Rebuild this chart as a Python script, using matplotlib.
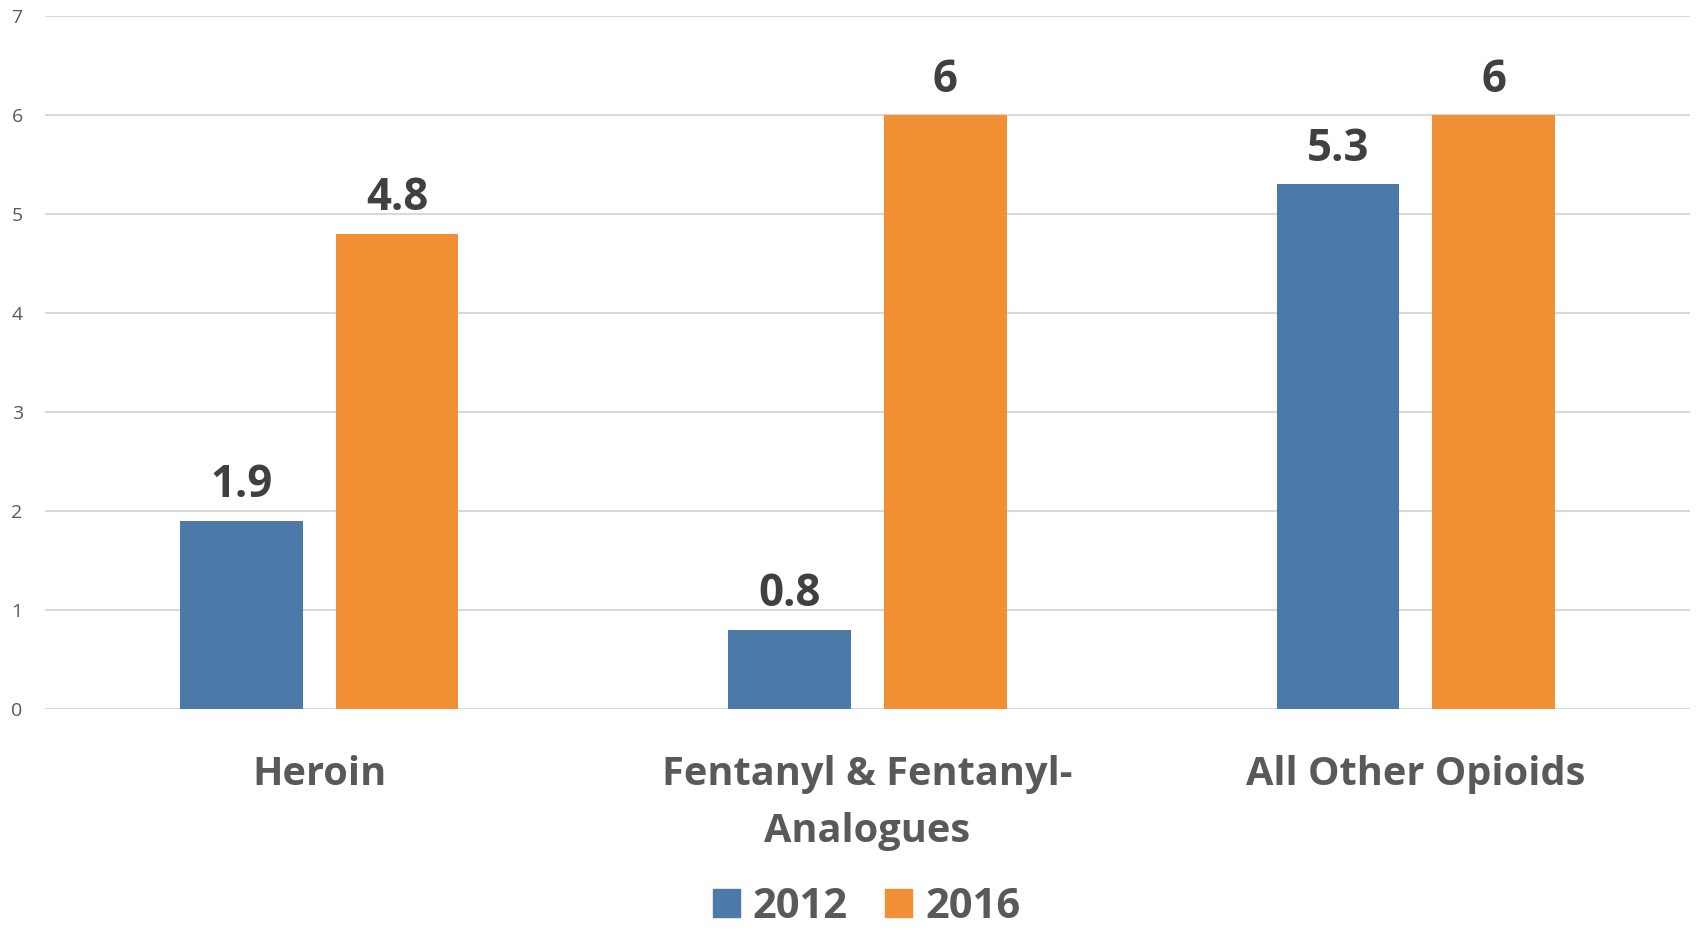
import numpy as np
import matplotlib
matplotlib.use('Agg')
import matplotlib.pyplot as plt
import matplotlib.transforms as mtransforms
from matplotlib.patches import Patch

categories = ['Heroin', 'Fentanyl & Fentanyl-\nAnalogues', 'All Other Opioids']
series_names = ['2012', '2016']
values_2012 = [1.9, 0.8, 5.3]
values_2016 = [4.8, 6, 6]
yticks = [0, 1, 2, 3, 4, 5, 6, 7]

blue = '#4C79A8'
orange = '#F08F34'
label_grey = '#595959'
value_grey = '#404040'

plt.rcParams['font.family'] = ['Open Sans', 'DejaVu Sans']

fig = plt.figure(figsize=(16.96, 9.3), dpi=100)
ax = fig.add_axes([0.0265, 0.2376, 0.97, 0.7452])

x = np.arange(len(categories))
width = 0.224
offset = 0.142

bars1 = ax.bar(x - offset, values_2012, width, color=blue, zorder=3)
bars2 = ax.bar(x + offset, values_2016, width, color=orange, zorder=3)

# data labels
for bars, vals in [(bars1, values_2012), (bars2, values_2016)]:
	for b, v in zip(bars, vals):
		txt = ('%g' % v)
		ax.annotate(txt, (b.get_x() + b.get_width() / 2, v), xytext=(0, 9),
			textcoords='offset points', ha='center', va='bottom',
			fontsize=31.5, fontweight='bold', color=value_grey)

ax.set_xlim(-0.5, 2.5)
ax.set_ylim(0, 7)
ax.set_yticks(yticks)
ax.set_yticklabels([str(t) for t in yticks], fontsize=14, color=label_grey)
ax.tick_params(axis='y', length=0, pad=16)
ax.set_xticks([])
ax.grid(axis='y', color='#d9d9d9', linewidth=1.5, zorder=0)
for s in ax.spines.values():
	s.set_visible(False)

# category labels below the axis
trans = mtransforms.blended_transform_factory(ax.transData, fig.transFigure)
for xi, cat in zip(x, categories):
	ax.text(xi, 1 - 755 / 930, cat, transform=trans, ha='center', va='top',
		fontsize=28.6, fontweight='bold', color=label_grey, linespacing=1.6)

handles = [Patch(color=blue, label=series_names[0]), Patch(color=orange, label=series_names[1])]
leg = fig.legend(handles=handles, loc='center', bbox_to_anchor=(0.511, 1 - 907 / 930),
	ncol=2, frameon=False, fontsize=30, handlelength=0.65, handleheight=0.65,
	handletextpad=0.31, columnspacing=0.9, borderpad=0.1)
for t in leg.get_texts():
	t.set_color(label_grey)
	t.set_fontweight('bold')

fig.savefig('out.png', dpi=100)
